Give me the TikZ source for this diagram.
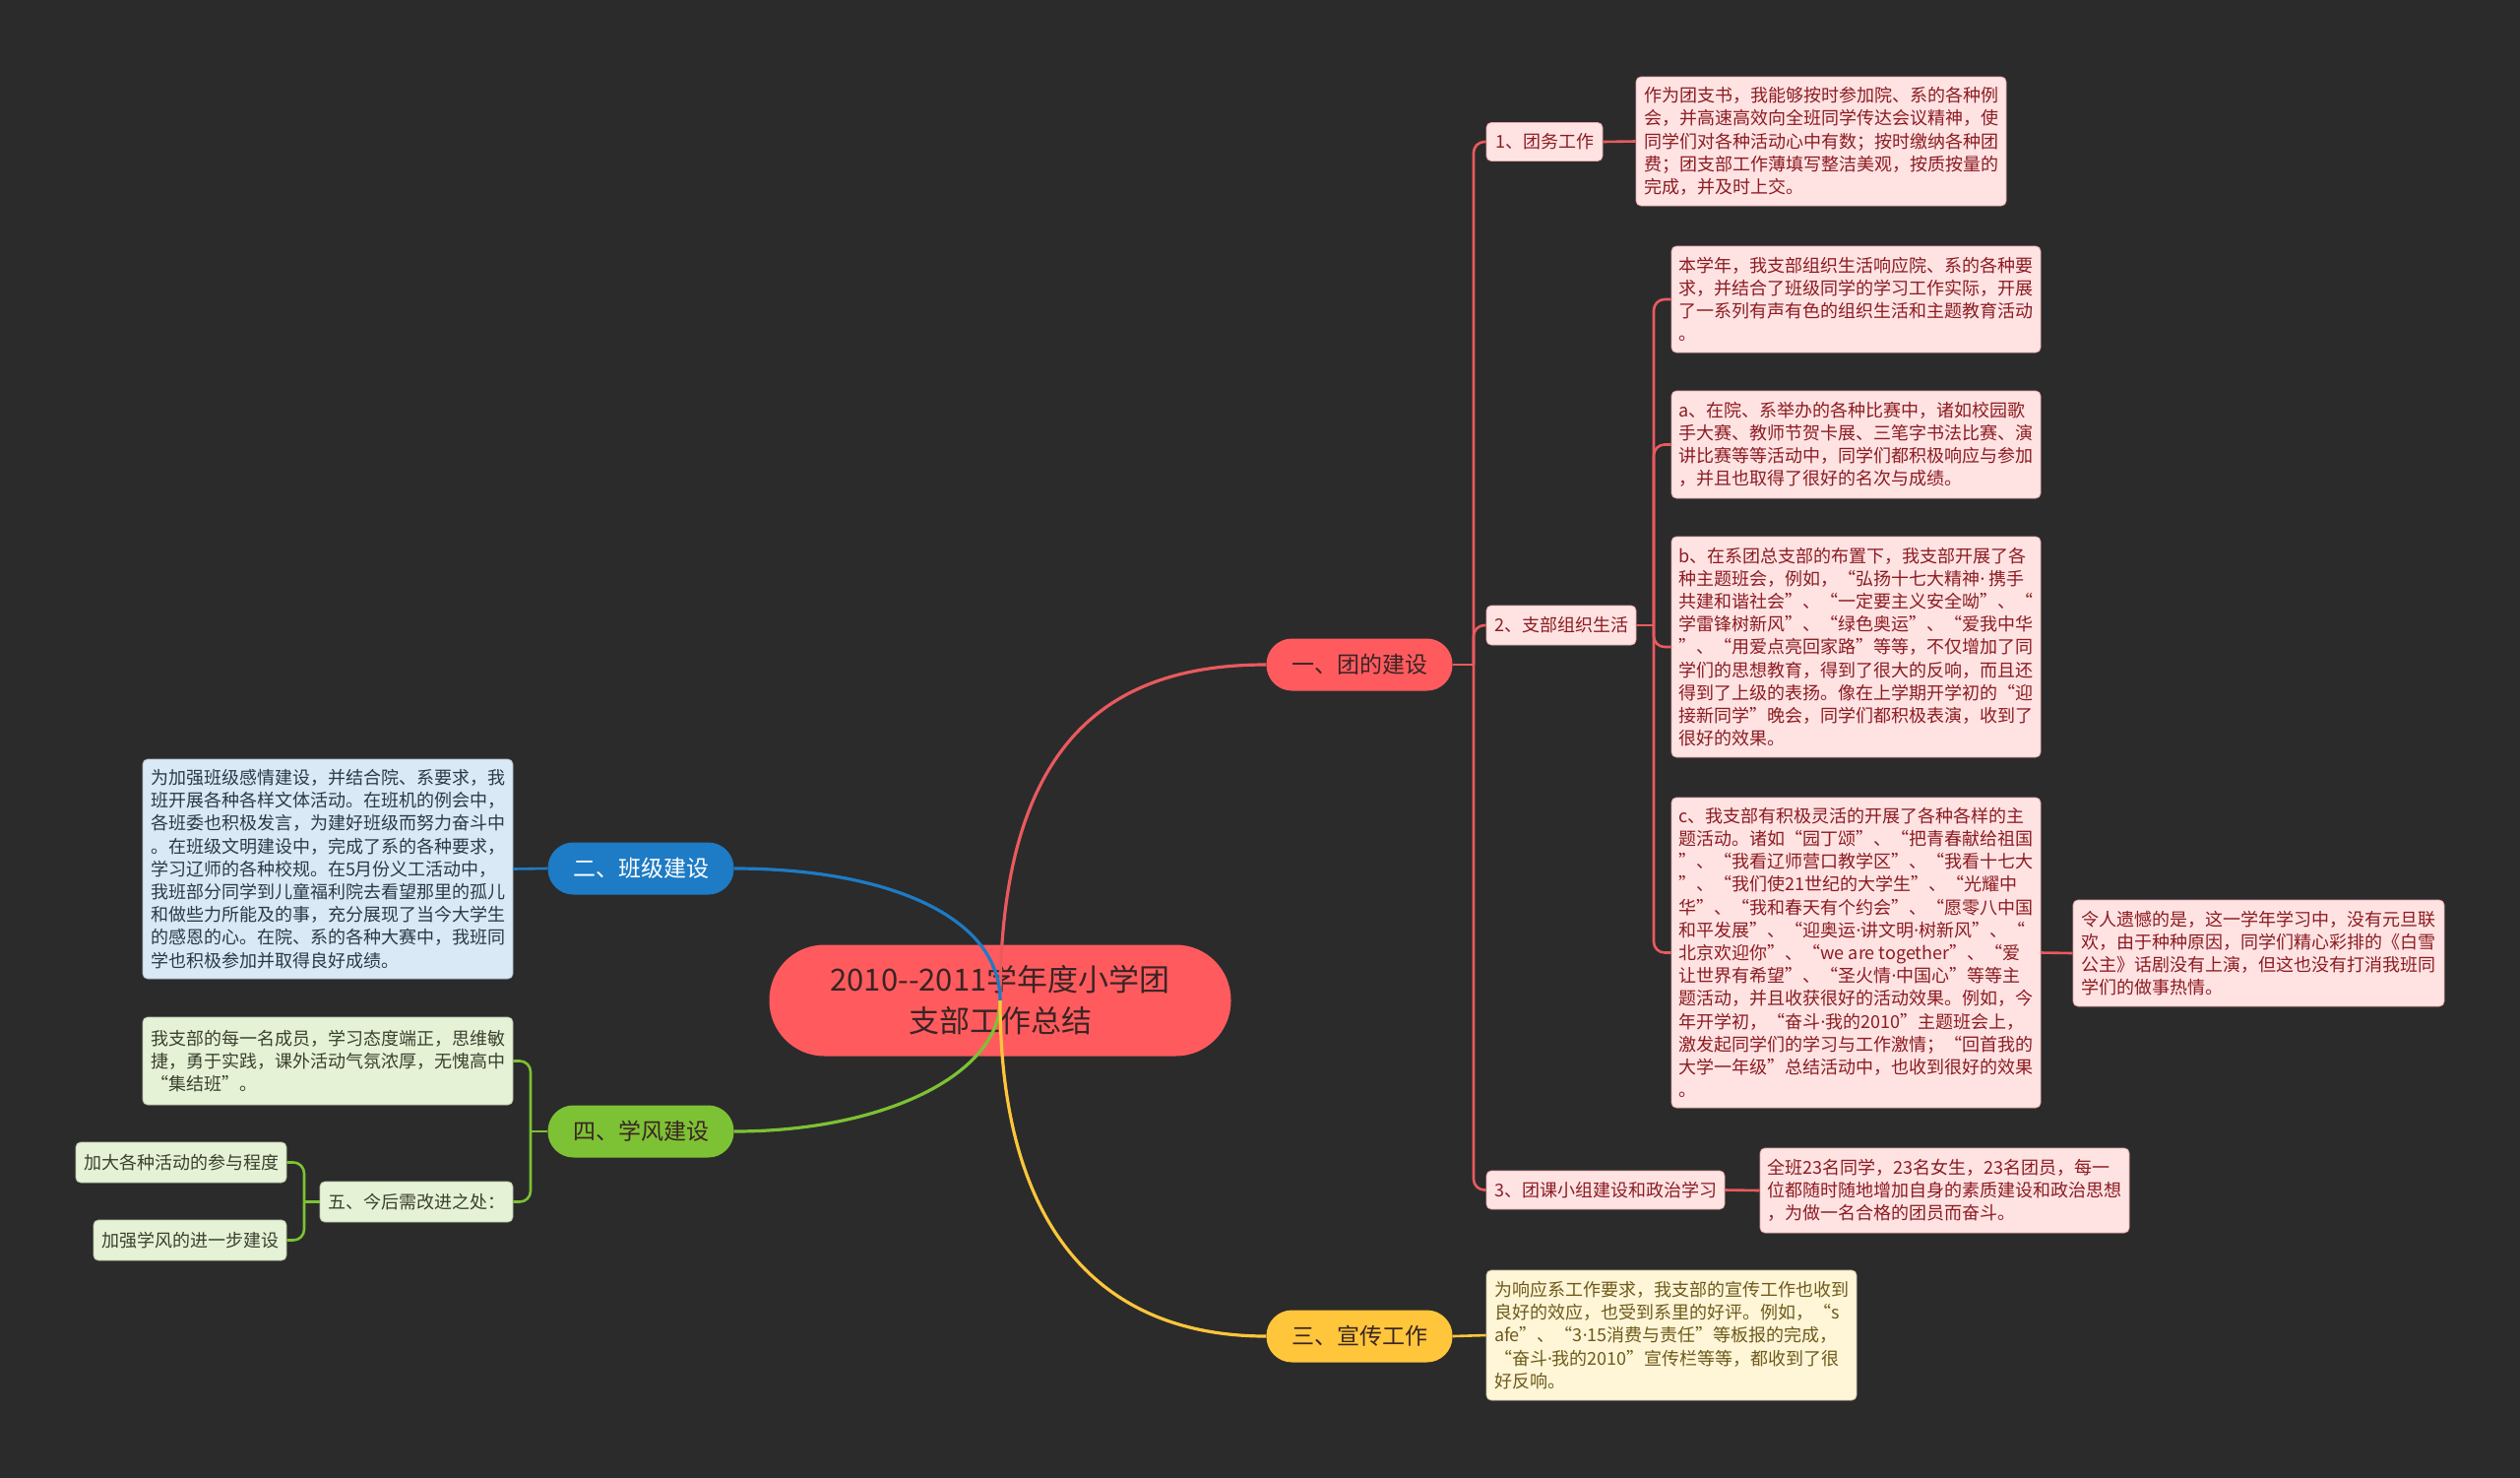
\documentclass[tikz,border=0pt]{standalone}
\usepackage{fontspec}
\setmainfont{Noto Sans CJK SC}
\newfontfamily\dotfont{Noto Sans}
\newcommand{\mdot}{{\dotfont ·}}
\definecolor{bgc}{HTML}{2B2B2B}
\definecolor{redc}{HTML}{FF5B5F}
\definecolor{redl}{HTML}{E95A5E}
\definecolor{pinkfill}{HTML}{FFE3E3}
\definecolor{pinktext}{HTML}{8C1C22}
\definecolor{pinkline}{HTML}{E7A9AB}
\definecolor{bluec}{HTML}{1E7BC5}
\definecolor{bluefill}{HTML}{D9E9F5}
\definecolor{bluetext}{HTML}{2B3A48}
\definecolor{greenc}{HTML}{7DC234}
\definecolor{greenfill}{HTML}{E6F2D5}
\definecolor{greentext}{HTML}{3B4030}
\definecolor{yellowc}{HTML}{FFC63B}
\definecolor{yellowfill}{HTML}{FFF6D8}
\definecolor{yellowtext}{HTML}{6E5A1A}
\definecolor{darktext}{HTML}{3A2424}
\tikzset{
  txtbox/.style={rounded corners=5pt, inner sep=0pt, align=left, line width=0.8pt,
    font=\fontsize{18}{23.2}\selectfont},
  pinkbox/.style={txtbox, fill=pinkfill, text=pinktext, draw=pinkline},
  bluebox/.style={txtbox, fill=bluefill, text=bluetext, draw=bluefill!80!black},
  greenbox/.style={txtbox, fill=greenfill, text=greentext, draw=greenfill!80!black},
  yellowbox/.style={txtbox, fill=yellowfill, text=yellowtext, draw=yellowfill!80!black},
  pill/.style={rounded corners=26pt, inner sep=0pt, minimum width=189pt, minimum height=53pt,
    font=\fontsize{23}{28}\selectfont},
  mainline/.style={line width=3.2pt},
  subline/.style={line width=2.6pt, rounded corners=11pt},
}
\begin{document}
\begin{tikzpicture}[x=1pt,y=-1pt]
\useasboundingbox (0,0) rectangle (2560,1500);
\fill[bgc] (-10,-10) rectangle (2570,1510);

% root
\node[fill=redc, rounded corners=56pt, minimum width=469pt, minimum height=113pt, inner sep=0pt,
  text=darktext, align=center, font=\fontsize{31}{42}\selectfont] (root) at (1016,1016)
  {2010{-}{-}2011学年度小学团\\支部工作总结};

% main branches
\node[pill, fill=redc, text=darktext] (p1) at (1381,675) {一、团的建设};
\node[pill, fill=bluec, text=white] (p2) at (651,882) {二、班级建设};
\node[pill, fill=greenc, text=darktext] (p4) at (651,1149) {四、学风建设};
\node[pill, fill=yellowc, text=darktext] (p3) at (1381,1357) {三、宣传工作};

% red sub nodes
\node[pinkbox, minimum width=118pt, minimum height=39pt] (s1) at (1569,144) {1、团务工作};
\node[pinkbox, minimum width=152pt, minimum height=40pt] (s2) at (1586,635) {2、支部组织生活};
\node[pinkbox, minimum width=242pt, minimum height=39pt] (s3) at (1631,1208.5) {3、团课小组建设和政治学习};

\node[pinkbox, minimum width=376pt, minimum height=131pt] (t1) at (1850,143.5)
{作为团支书，我能够按时参加院、系的各种例\\
会，并高速高效向全班同学传达会议精神，使\\
同学们对各种活动心中有数；按时缴纳各种团\\
费；团支部工作薄填写整洁美观，按质按量的\\
完成，并及时上交。};

\node[pinkbox, minimum width=375pt, minimum height=108pt] (t2a) at (1885.5,304)
{本学年，我支部组织生活响应院、系的各种要\\
求，并结合了班级同学的学习工作实际，开展\\
了一系列有声有色的组织生活和主题教育活动\\
。};

\node[pinkbox, minimum width=375pt, minimum height=109pt] (t2b) at (1885.5,451.5)
{a、在院、系举办的各种比赛中，诸如校园歌\\
手大赛、教师节贺卡展、三笔字书法比赛、演\\
讲比赛等等活动中，同学们都积极响应与参加\\
，并且也取得了很好的名次与成绩。};

\node[pinkbox, minimum width=375pt, minimum height=224pt] (t2c) at (1885.5,657)
{b、在系团总支部的布置下，我支部开展了各\\
种主题班会，例如，“弘扬十七大精神\mdot{} 携手\\
共建和谐社会”、“一定要主义安全呦”、“\\
学雷锋树新风”、“绿色奥运”、“爱我中华\\
”、“用爱点亮回家路”等等，不仅增加了同\\
学们的思想教育，得到了很大的反响，而且还\\
得到了上级的表扬。像在上学期开学初的“迎\\
接新同学”晚会，同学们都积极表演，收到了\\
很好的效果。};

\node[pinkbox, minimum width=375pt, minimum height=315pt] (t2d) at (1885.5,967.5)
{c、我支部有积极灵活的开展了各种各样的主\\
题活动。诸如“园丁颂”、“把青春献给祖国\\
”、“我看辽师营口教学区”、“我看十七大\\
”、“我们使21世纪的大学生”、“光耀中\\
华”、“我和春天有个约会”、“愿零八中国\\
和平发展”、“迎奥运\mdot{}讲文明\mdot{}树新风”、“\\
北京欢迎你”、“we are together”、“爱\\
让世界有希望”、“圣火情\mdot{}中国心”等等主\\
题活动，并且收获很好的活动效果。例如，今\\
年开学初，“奋斗\mdot{}我的2010”主题班会上，\\
激发起同学们的学习与工作激情；“回首我的\\
大学一年级”总结活动中，也收到很好的效果\\
。};

\node[pinkbox, minimum width=377pt, minimum height=108pt] (t2e) at (2294.5,968)
{令人遗憾的是，这一学年学习中，没有元旦联\\
欢，由于种种原因，同学们精心彩排的《白雪\\
公主》话剧没有上演，但这也没有打消我班同\\
学们的做事热情。};

\node[pinkbox, minimum width=375pt, minimum height=86pt] (t3) at (1975.5,1209)
{全班23名同学，23名女生，23名团员，每一\\
位都随时随地增加自身的素质建设和政治思想\\
，为做一名合格的团员而奋斗。};

% yellow
\node[yellowbox, minimum width=376pt, minimum height=132pt] (t4) at (1698,1356)
{为响应系工作要求，我支部的宣传工作也收到\\
良好的效应，也受到系里的好评。例如，“s\\
afe”、“3\mdot{}15消费与责任”等板报的完成，\\
“奋斗\mdot{}我的2010”宣传栏等等，都收到了很\\
好反响。};

% blue
\node[bluebox, minimum width=376pt, minimum height=223pt] (tb) at (333,882.5)
{为加强班级感情建设，并结合院、系要求，我\\
班开展各种各样文体活动。在班机的例会中，\\
各班委也积极发言，为建好班级而努力奋斗中\\
。在班级文明建设中，完成了系的各种要求，\\
学习辽师的各种校规。在5月份义工活动中，\\
我班部分同学到儿童福利院去看望那里的孤儿\\
和做些力所能及的事，充分展现了当今大学生\\
的感恩的心。在院、系的各种大赛中，我班同\\
学也积极参加并取得良好成绩。};

% green
\node[greenbox, minimum width=376pt, minimum height=89pt] (tg) at (333,1077.5)
{我支部的每一名成员，学习态度端正，思维敏\\
捷，勇于实践，课外活动气氛浓厚，无愧高中\\
“集结班”。};
\node[greenbox, minimum width=196pt, minimum height=41pt] (s5) at (423,1220.5) {五、今后需改进之处：};
\node[greenbox, minimum width=214pt, minimum height=41pt] (g1) at (184,1180.5) {加大各种活动的参与程度};
\node[greenbox, minimum width=196pt, minimum height=41pt] (g2) at (193,1259.5) {加强学风的进一步建设};

% coordinates for trunks
\coordinate (k1) at (1497,675);
\coordinate (k2) at (1680,635);
\coordinate (k4) at (539,1149);
\coordinate (k5) at (309,1220.5);

% main curves
\draw[mainline, redl] (root.center) .. controls (1016,760) and (1120,675) .. (p1.west);
\draw[mainline, bluec] (p2.east) .. controls (900,882) and (1016,930) .. (root.center);
\draw[mainline, greenc] (p4.east) .. controls (900,1149) and (1016,1090) .. (root.center);
\draw[mainline, yellowc] (root.center) .. controls (1016,1250) and (1120,1357) .. (p3.west);

% red sub lines
\draw[subline, redl] (p1.east) -- (k1);
\foreach \c in {s1,s2,s3} \draw[subline, redl] (k1) |- (\c.west);
\draw[subline, redl] (s2.east) -- (k2);
\foreach \c in {t2a,t2b,t2c,t2d} \draw[subline, redl] (k2) |- (\c.west);
\draw[subline, redl] (s1.east) -- (t1.west);
\draw[subline, redl] (s3.east) -- (t3.west);
\draw[subline, redl] (t2d.east) -- (t2e.west);
% blue, yellow
\draw[subline, bluec] (p2.west) -- (tb.east);
\draw[subline, yellowc] (p3.east) -- (t4.west);
% green
\draw[subline, greenc] (p4.west) -- (k4);
\foreach \c in {tg,s5} \draw[subline, greenc] (k4) |- (\c.east);
\draw[subline, greenc] (s5.west) -- (k5);
\foreach \c in {g1,g2} \draw[subline, greenc] (k5) |- (\c.east);
\end{tikzpicture}
\end{document}
